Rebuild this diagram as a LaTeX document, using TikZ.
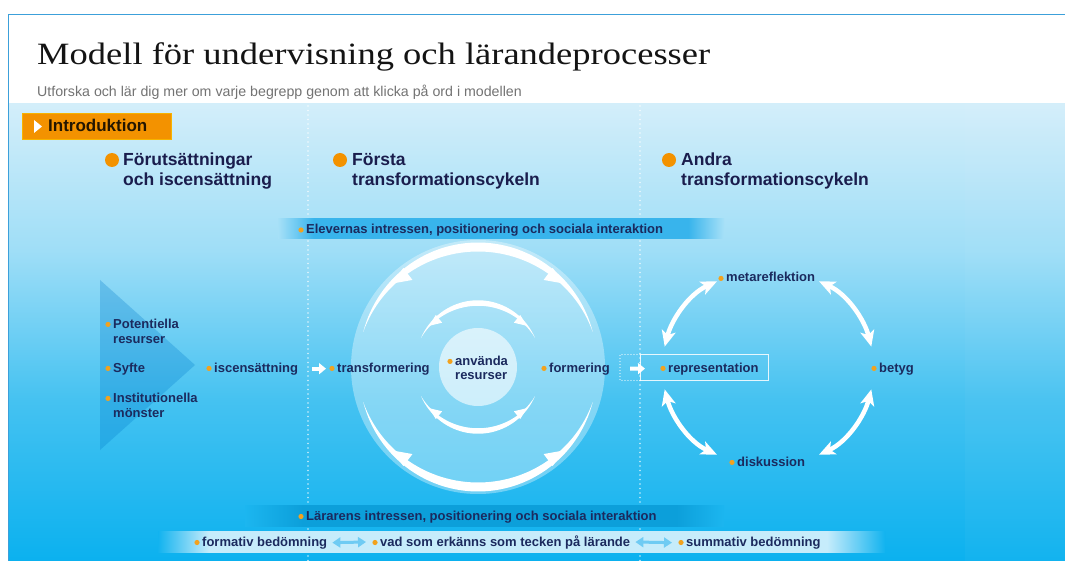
\documentclass[tikz,border=0pt]{standalone}
\usepackage{graphicx}
\usepackage{fontspec}
\setmainfont{Liberation Serif}
\setsansfont{Liberation Sans}
\usetikzlibrary{arrows.meta,calc}

\definecolor{navy}{HTML}{1B2A5E}
\definecolor{hdr}{HTML}{1A1D4D}
\definecolor{dotc}{HTML}{F2A21E}
\definecolor{orng}{HTML}{F39200}
\definecolor{bgA}{HTML}{D3EEFA}
\definecolor{bgB}{HTML}{9FDEF7}
\definecolor{bgC}{HTML}{45C2F1}
\definecolor{bgD}{HTML}{0BB1EF}
\definecolor{framec}{HTML}{3CA0DA}
\definecolor{bandE}{HTML}{38B4EC}
\definecolor{bandL}{HTML}{0C9FDA}
\definecolor{bandB}{HTML}{C6ECFB}
\definecolor{dblc}{HTML}{6FCBF3}
\colorlet{bgE}{bgB!86!bgA}
\colorlet{bgL}{bgD!71!bgC}
\colorlet{bgBt}{bgD!88!bgC}

% backdrop: path spans 25bp..75bp of the shading (y 561 .. 104)
\pgfdeclareverticalshading{backdrop}{100bp}{%
  color(0bp)=(bgD); color(25bp)=(bgD); color(42.6bp)=(bgC);
  color(59bp)=(bgB); color(75bp)=(bgA); color(100bp)=(bgA)}
% bands that fade out at both ends
\pgfdeclarehorizontalshading{elevband}{100bp}{%
  color(0bp)=(bgE); color(25bp)=(bgE); color(29bp)=(bandE);
  color(71bp)=(bandE); color(75bp)=(bgE); color(100bp)=(bgE)}
\pgfdeclarehorizontalshading{lararband}{100bp}{%
  color(0bp)=(bgL); color(25bp)=(bgL); color(31bp)=(bandL);
  color(70bp)=(bandL); color(75bp)=(bgL); color(100bp)=(bgL)}
\pgfdeclarehorizontalshading{assessband}{100bp}{%
  color(0bp)=(bgBt); color(25bp)=(bgBt); color(28.5bp)=(bandB);
  color(71bp)=(bandB); color(75bp)=(bgBt); color(100bp)=(bgBt)}

% circle centre of the first transformation cycle
\def\cx{478}
\def\cy{367}

% tapered white crescent: radius, start angle, end angle, max thickness
\newcommand\crescent[4]{%
  \fill[white] plot[domain=#2:#3,samples=60,variable=\t]
     ({\cx+(#1+0.5*#4*sin(180/(#3-#2)*(\t-#2)))*cos(\t)},{\cy-(#1+0.5*#4*sin(180/(#3-#2)*(\t-#2)))*sin(\t)})
   -- plot[domain=#3:#2,samples=60,variable=\t]
     ({\cx+(#1-0.5*#4*sin(180/(#3-#2)*(\t-#2)))*cos(\t)},{\cy-(#1-0.5*#4*sin(180/(#3-#2)*(\t-#2)))*sin(\t)})
   -- cycle;}
% arrow barb on a crescent: radius, base angle, tip angle, inner reach, outer reach
\newcommand\barb[5]{%
  \fill[white] ({\cx+(#1-#4)*cos(#2)},{\cy-(#1-#4)*sin(#2)})
    -- ({\cx+(#1+#5)*cos(#2)},{\cy-(#1+#5)*sin(#2)})
    -- ({\cx+#1*cos(#3)},{\cy-#1*sin(#3)}) -- cycle;}
% label with an orange bullet: style, name, x, y (last baseline), text, bullet raise
\newcommand\dlbl[6]{%
  \node[#1] (#2) at (#3,#4) {#5};
  \fill[dotc] ([shift={(-5pt,#6)}]#2.base west) circle (2.6pt);}

\tikzset{
  lbl/.style={font=\sffamily\bfseries\fontsize{13}{15}\selectfont, text=navy,
    inner sep=0pt, anchor=base west, align=left},
  lbl2/.style={lbl, font=\sffamily\bfseries\fontsize{13}{14}\selectfont},
  hd/.style={font=\sffamily\bfseries\fontsize{17.5}{20}\selectfont, text=hdr,
    inner sep=0pt, anchor=base west, align=left},
  bandtxt/.style={lbl, font=\sffamily\bfseries\fontsize{13}{15}\selectfont},
  vdot/.style={white, opacity=0.75, line width=1.6pt, line cap=round,
    dash pattern=on 0pt off 4.5pt},
  cyc/.style={white, line width=4.5pt,
    {Stealth[length=16pt,width=14pt,inset=4pt]}-{Stealth[length=16pt,width=14pt,inset=4pt]}},
  blk/.style={white, line width=4pt, -{Triangle[length=7pt,width=11pt]}},
  dbl/.style={dblc, line width=3pt,
    {Triangle[length=8pt,width=10pt]}-{Triangle[length=8pt,width=10pt]}},
}

\begin{document}
\begin{tikzpicture}[x=1pt,y=-1pt]
\useasboundingbox (0,0) rectangle (1065,561);

% page and blue backdrop
\fill[white] (0,0) rectangle (1065,561);
\shade[shading=backdrop] (8,104) rectangle (1065,561);
\fill[white,opacity=0.03] (965,104) rectangle (1065,561);
\draw[framec, line width=1pt] (8.5,561) -- (8.5,14.5) -- (1065,14.5);

% heading
\node[anchor=base west, inner sep=0pt, text=black!92] (title) at (37,65)
  {\resizebox{673pt}{\height}{\fontsize{31}{34}\selectfont Modell för undervisning och lärandeprocesser}};
\node[anchor=base west, inner sep=0pt, text=black!55,
  font=\sffamily\fontsize{14.2}{16}\selectfont] (sub) at (37,97)
  {Utforska och lär dig mer om varje begrepp genom att klicka på ord i modellen};

% intro button
\node[fill=orng, draw=orng!70!yellow, line width=0.6pt, minimum width=149pt, minimum height=26pt,
  inner sep=0pt, anchor=north west] (intro) at (22,113) {};
\fill[white] (34,120) -- (34,133) -- (42,126.5) -- cycle;
\node[anchor=base west, inner sep=0pt, text=black!85!orng,
  font=\sffamily\bfseries\fontsize{17}{19}\selectfont] (introtxt) at (48,132) {Introduktion};

% column separators
\draw[vdot] (308,106) -- (308,561);
\draw[vdot] (640,106) -- (640,561);

% column headings
\fill[orng] (112,160) circle (7pt);
\node[hd] (h1) at (123,186) {Förutsättningar\\och iscensättning};
\fill[orng] (340,160) circle (7pt);
\node[hd] (h2) at (352,186) {Första\\transformationscykeln};
\fill[orng] (669,160) circle (7pt);
\node[hd] (h3) at (681,186) {Andra\\transformationscykeln};

% pupils' band
\shade[shading=elevband] (278,219) rectangle (724,239);
\dlbl{bandtxt}{elev}{306}{233.5}{Elevernas intressen, positionering och sociala interaktion}{3.5pt}

% teachers' band
\shade[shading=lararband] (245,505) rectangle (724,526);
\dlbl{bandtxt}{larare}{306}{520}{Lärarens intressen, positionering och sociala interaktion}{3.5pt}

% assessment band
\shade[shading=assessband] (158,531) rectangle (885,552);
\dlbl{bandtxt}{form}{202}{546}{formativ bedömning}{3.5pt}
\dlbl{bandtxt}{vad}{380}{546}{vad som erkänns som tecken på lärande}{3.5pt}
\dlbl{bandtxt}{summ}{686}{546}{summativ bedömning}{3.5pt}
\draw[dbl] ([xshift=5pt]form.east) -- ([xshift=-14pt]vad.west);
\draw[dbl] ([xshift=5pt]vad.east) -- ([xshift=-14pt]summ.west);

% preconditions wedge
\fill[blue!40!cyan!80!black, opacity=0.28] (100,280) -- (195,365) -- (100,450) -- cycle;
\dlbl{lbl}{pot}{113}{343}{Potentiella\\resurser}{18.6pt}
\dlbl{lbl}{syfte}{113}{372}{Syfte}{3.6pt}
\dlbl{lbl}{inst}{113}{417}{Institutionella\\mönster}{18.6pt}
\dlbl{lbl}{isc}{214}{372}{iscensättning}{3.6pt}

% first transformation cycle
\fill[white, opacity=0.35] (\cx,\cy) circle (127pt);
\fill[white, opacity=0.6] (\cx,\cy) circle (39pt);
\crescent{120}{17}{163}{9}
\barb{120}{127}{136}{11}{4}
\barb{120}{53}{44}{11}{4}
\crescent{120}{197}{343}{9}
\barb{120}{233}{224}{11}{4}
\barb{120}{307}{316}{11}{4}
\crescent{64}{27}{153}{5.5}
\barb{64}{129}{140}{7}{3}
\barb{64}{51}{40}{7}{3}
\crescent{64}{207}{333}{5.5}
\barb{64}{231}{220}{7}{3}
\barb{64}{309}{320}{7}{3}

\dlbl{lbl}{trans}{337}{372}{transformering}{3.6pt}
\dlbl{lbl2}{anv}{455}{379}{använda\\resurser}{17.6pt}
\dlbl{lbl}{formering}{549}{372}{formering}{3.6pt}
\draw[blk] ([xshift=14pt]isc.east) -- ([xshift=-11pt]trans.west);

% second transformation cycle
\draw[white, opacity=0.9, line width=1.2pt, line cap=round, dash pattern=on 0pt off 3pt]
  (640,354.5) -- (620,354.5) -- (620,380.5) -- (640,380.5);
\draw[white, opacity=0.85, line width=1pt] (640,354.5) rectangle (768,380.5);
\dlbl{lbl}{repr}{668}{372}{representation}{3.6pt}
\dlbl{lbl}{meta}{726}{282}{metareflektion}{3.6pt}
\dlbl{lbl}{betyg}{879}{372}{betyg}{3.6pt}
\dlbl{lbl}{disk}{737}{466}{diskussion}{3.6pt}
\draw[blk] ([xshift=20pt]formering.east) -- ([xshift=-23pt]repr.west);

\coordinate (tl1) at (664.7,346.6);
\coordinate (tl2) at (716.9,281.4);
\coordinate (tr1) at (819.1,281.4);
\coordinate (tr2) at (871.3,346.6);
\coordinate (bl1) at (664.7,389.4);
\coordinate (bl2) at (716.9,454.6);
\coordinate (br1) at (871.3,389.4);
\coordinate (br2) at (819.1,454.6);
\draw[cyc] (tl1) .. controls +(7.0,-27.3) and +(-27.9,12.7) .. (tl2);
\draw[cyc] (tr1) .. controls +(27.9,12.7) and +(-7.0,-27.3) .. (tr2);
\draw[cyc] (bl1) .. controls +(7.0,27.3) and +(-27.9,-12.7) .. (bl2);
\draw[cyc] (br1) .. controls +(-7.0,27.3) and +(27.9,-12.7) .. (br2);
\end{tikzpicture}
\end{document}
